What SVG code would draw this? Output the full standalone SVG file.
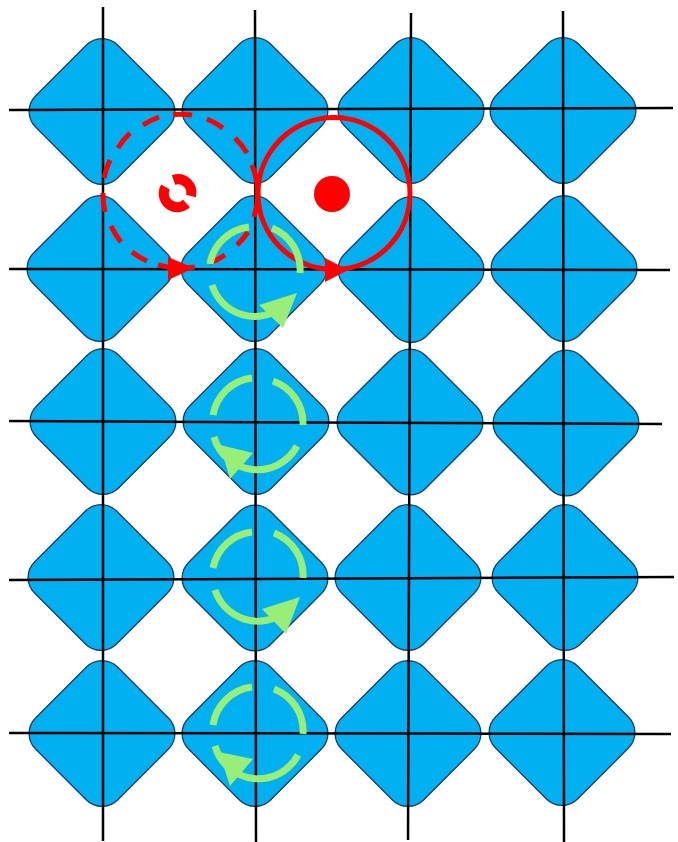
<svg xmlns="http://www.w3.org/2000/svg" width="678" height="842" viewBox="0 0 678 842">
<style>
.d{fill:#00b0f0;stroke:#1f3a5f;stroke-width:1.3}
.l{stroke:#000;stroke-width:2.5;fill:none}
.r{stroke:#f00;stroke-width:5;fill:none}
.rs{stroke:#f00;stroke-width:10;fill:none}
.g{stroke:#99ee77;stroke-width:7;fill:none}
.gh{fill:#99ee77}
.rh{fill:#f00}
</style>
<defs><rect id="dm" class="d" x="-58" y="-58" width="116" height="116" rx="22" ry="22" transform="rotate(45)"/></defs>
<rect width="678" height="842" fill="#fff"/>
<g id="nodes">
<use id="n11" href="#dm" transform="translate(102,111.5)"/>
<use id="n12" href="#dm" transform="translate(255,110.5)"/>
<use id="n13" href="#dm" transform="translate(411,110.5)"/>
<use id="n14" href="#dm" transform="translate(563,110.5)"/>
<use id="n21" href="#dm" transform="translate(100,268.5)"/>
<use id="n22" href="#dm" transform="translate(254,268.5)"/>
<use id="n23" href="#dm" transform="translate(411,269.5)"/>
<use id="n24" href="#dm" transform="translate(564,268.5)"/>
<use id="n31" href="#dm" transform="translate(103,421.5)"/>
<use id="n32" href="#dm" transform="translate(256,421.5)"/>
<use id="n33" href="#dm" transform="translate(410,422)"/>
<use id="n34" href="#dm" transform="translate(566,423)"/>
<use id="n41" href="#dm" transform="translate(101,577.5)"/>
<use id="n42" href="#dm" transform="translate(255,578)"/>
<use id="n43" href="#dm" transform="translate(408,577.5)"/>
<use id="n44" href="#dm" transform="translate(565,577.5)"/>
<use id="n51" href="#dm" transform="translate(102,733.5)"/>
<use id="n52" href="#dm" transform="translate(255,733.5)"/>
<use id="n53" href="#dm" transform="translate(408,733.5)"/>
<use id="n54" href="#dm" transform="translate(562,732.5)"/>
</g>
<g id="connectors">
<path class="l" d="M103 7L103 841M255 10L256 842M411 13L408 840M563 11L564 842"/>
<path class="l" d="M9 110L673 108M9 269L670 270M9 421L662 424M9 580L674 577M9 733L671 734"/>
<circle class="r" cx="334" cy="193.5" r="76"/>
<path class="r" d="M173 114.5A77 77 0 0 1 192 115M207 119A77 77 0 0 1 223 128M235 138A77 77 0 0 1 247 153M252 165A77 77 0 0 1 254 217M248 232A77 77 0 0 1 237 245M225 255A77 77 0 0 1 210 263M195 267A77 77 0 0 1 158 265M147 261A77 77 0 0 1 132 252M121 242A77 77 0 0 1 111 226M105 212A77 77 0 0 1 103 193M104 178A77 77 0 0 1 110 160M118 148A77 77 0 0 1 130 133M143 125A77 77 0 0 1 159 117"/>
<path class="rh" d="M168 257L194 268L168 280Z"/>
<path class="rh" d="M325 258L348 270L325 282Z"/>
<circle class="rh" cx="332" cy="194" r="18"/>
<path class="rs" d="M173.5 180A13.5 13.5 0 0 1 191 196M186.5 203.5A13.5 13.5 0 0 1 165.5 187"/>
<path class="g" d="M249 227A45 45 0 0 0 210 264M272 228A45 45 0 0 1 300 273M212 285A45 45 0 0 0 285 305"/>
<path class="gh" d="M297 293L259 305L283 328Z"/>
<path class="g" d="M252 378A45 45 0 0 0 213 415M273 381A45 45 0 0 1 303 425M214 437A45 45 0 0 0 297 446"/>
<path class="gh" d="M253 453L220 445L230 479Z"/>
<path class="g" d="M252 532A45 45 0 0 0 213 568M274 533A45 45 0 0 1 303 578M215 590A45 45 0 0 0 285 612"/>
<path class="gh" d="M300 597L262 609L286 634Z"/>
<path class="g" d="M252 687A45 45 0 0 0 213 725M274 689A45 45 0 0 1 303 734M215 746A45 45 0 0 0 298 755"/>
<path class="gh" d="M253 759L219 752L230 786Z"/>
</g>
</svg>
